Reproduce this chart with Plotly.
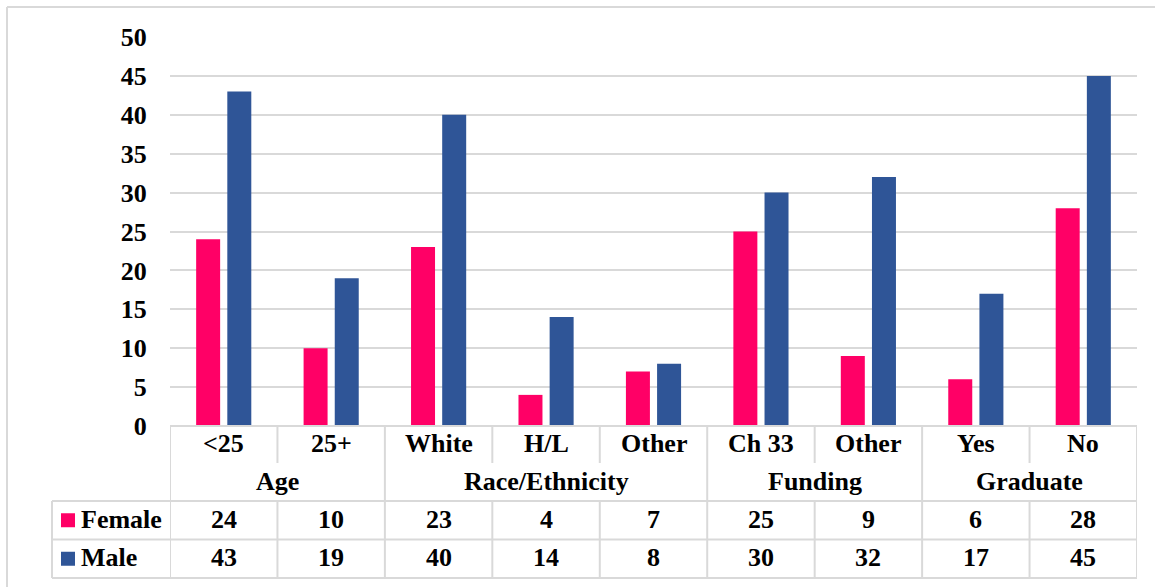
import plotly.graph_objects as go

# Survey breakdown by sex
groups = ["Age", "Race/Ethnicity", "Funding", "Graduate"]
group_sizes = [2, 3, 2, 2]
categories = ["<25", "25+", "White", "H/L", "Other", "Ch 33", "Other", "Yes", "No"]
female = [24, 10, 23, 4, 7, 25, 9, 6, 28]
male = [43, 19, 40, 14, 8, 30, 32, 17, 45]
y_ticks = [0, 5, 10, 15, 20, 25, 30, 35, 40, 45, 50]

PINK = "#FF0066"
BLUE = "#2F5597"
GRID = "#D9D9D9"
FONT = "Liberation Serif"
FS = 26

W, H = 1155, 587
L, R, T, B = 170, 1137, 37, 426   # plot area in pixels

def px_x(p):
    return (p - L) / (R - L)

def px_y(p):
    return (B - p) / (B - T)

xs = list(range(len(categories)))

fig = go.Figure()
fig.add_trace(go.Bar(x=xs, y=female, name="Female", marker=dict(color=PINK, line=dict(width=0))))
fig.add_trace(go.Bar(x=xs, y=male, name="Male", marker=dict(color=BLUE, line=dict(width=0))))

shapes = []
annotations = []

def hline(y0px, x0px, x1px, color=GRID, width=2):
    shapes.append(dict(type="line", xref="paper", yref="paper",
                       x0=px_x(x0px), x1=px_x(x1px), y0=px_y(y0px), y1=px_y(y0px),
                       line=dict(color=color, width=width)))

def vline_data(x, y0px, y1px, color=GRID, width=2):
    shapes.append(dict(type="line", xref="x", yref="paper",
                       x0=x, x1=x, y0=px_y(y0px), y1=px_y(y1px),
                       line=dict(color=color, width=width)))

def vline_px(xpx, y0px, y1px, color=GRID, width=2):
    shapes.append(dict(type="line", xref="paper", yref="paper",
                       x0=px_x(xpx), x1=px_x(xpx), y0=px_y(y0px), y1=px_y(y1px),
                       line=dict(color=color, width=width)))

# outer chart frame (top and left edges)
hline(7, 7, W + 5, color="#D9D9D9", width=2)
vline_px(7, 7, H + 5, color="#D9D9D9", width=2)

ROW_CAT = (426, 463)
ROW_GRP = (463, 501)
ROW_F = (501, 539.5)
ROW_M = (539.5, 578)
TBL_LEFT = 52

# table horizontal rules
hline(426, L, R)
for yp in (ROW_F[0], ROW_M[0], ROW_M[1]):
    hline(yp, TBL_LEFT, R)

# table vertical rules
vline_px(TBL_LEFT, ROW_F[0], ROW_M[1])
vline_data(-0.5, ROW_CAT[0], ROW_M[1])
boundaries = []
acc = 0
for s in group_sizes:
    acc += s
    boundaries.append(acc - 0.5)
for i in range(1, len(categories) + 1):
    b = i - 0.5
    if b in boundaries:
        vline_data(b, ROW_CAT[0], ROW_M[1])
    else:
        vline_data(b, ROW_CAT[0], ROW_CAT[1])
        vline_data(b, ROW_F[0], ROW_M[1])

def mid(row):
    return px_y((row[0] + row[1]) / 2 - 1)

def txt(x, y, s, xref="x", xanchor="center"):
    annotations.append(dict(x=x, y=y, xref=xref, yref="paper", text=s, showarrow=False,
                            xanchor=xanchor, yanchor="middle",
                            font=dict(family=FONT, size=FS, color="black", weight="bold")))

for i, c in enumerate(categories):
    txt(i, mid(ROW_CAT), c)
    txt(i, mid(ROW_F), str(female[i]))
    txt(i, mid(ROW_M), str(male[i]))

start = 0
for g, s in zip(groups, group_sizes):
    txt(start + (s - 1) / 2, mid(ROW_GRP), g)
    start += s

# legend keys inside the table
for row, color, label in ((ROW_F, PINK, "Female"), (ROW_M, BLUE, "Male")):
    cy = (row[0] + row[1]) / 2
    shapes.append(dict(type="rect", xref="paper", yref="paper",
                       x0=px_x(61), x1=px_x(75), y0=px_y(cy - 7), y1=px_y(cy + 7),
                       fillcolor=color, line=dict(width=0)))
    txt(px_x(79), mid(row), label, xref="paper", xanchor="left")

fig.update_layout(
    width=W, height=H,
    margin=dict(l=L, r=W - R, t=T, b=H - B),
    paper_bgcolor="white", plot_bgcolor="white",
    barmode="group", bargap=0.42, bargroupgap=0.23,
    showlegend=False,
    font=dict(family=FONT, size=FS, color="black"),
    xaxis=dict(range=[-0.5, len(categories) - 0.5], showticklabels=False,
               showgrid=False, zeroline=False, showline=False, fixedrange=True),
    yaxis=dict(range=[0, 50], tickvals=y_ticks, showgrid=True, gridcolor=GRID, gridwidth=1.5,
               zeroline=False, showline=False, ticks="outside", ticklen=17,
               tickcolor="rgba(0,0,0,0)",
               tickfont=dict(family=FONT, size=FS, color="black", weight="bold")),
    shapes=shapes, annotations=annotations,
)

fig.write_html("out.html")
